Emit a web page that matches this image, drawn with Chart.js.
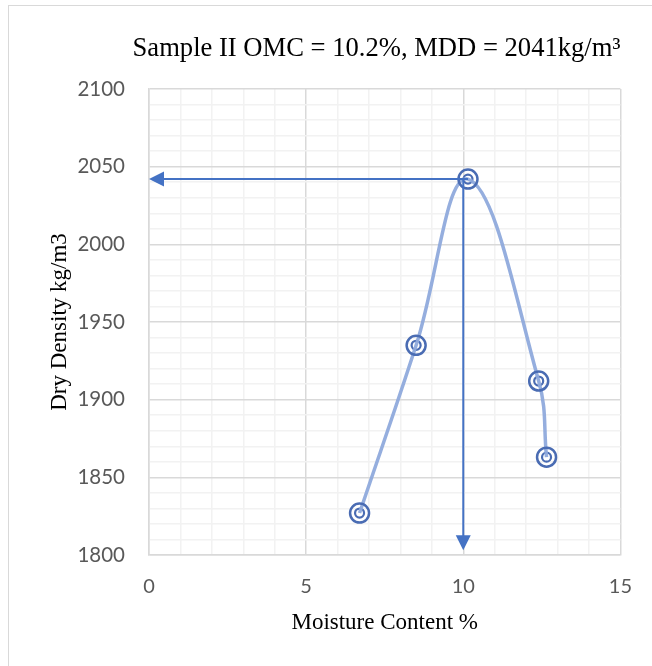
<!DOCTYPE html>
<html>
<head>
<meta charset="utf-8">
<script src="https://cdn.jsdelivr.net/npm/chart.js@4.4.0/dist/chart.umd.min.js"></script>
<style>
  body { margin: 0; background: #fff; }
  #wrap { position: relative; width: 652px; height: 666px; }
  #frame {
    position: absolute; left: 8px; top: 5px; right: -10px; bottom: -10px;
    border-top: 1.5px solid #d9d9d9; border-left: 1.5px solid #d9d9d9;
    pointer-events: none;
  }
  canvas { position: absolute; left: 0; top: 0; }
</style>
</head>
<body>
<div id="wrap">
  <div id="frame"></div>
  <canvas id="compactionChart" width="652" height="666"></canvas>
</div>
<script>
// moisture content (%) and dry density (kg/m3)
const moisture = [6.7, 8.5, 10.15, 12.4, 12.65];
const dryDensity = [1827, 1935, 2042, 1912, 1863];

// reference lines for the optimum
const omcLineX = 10;
const mddLineY = 2042;
const arrowTipY = 1803;

const xTickLabels = [0, 5, 10, 15];
const yTickLabels = [1800, 1850, 1900, 1950, 2000, 2050, 2100];

const chartTitle = "Sample II OMC = 10.2%, MDD = 2041kg/m\u00b3";

const points = moisture.map((m, i) => ({ x: m, y: dryDensity[i] }));

const markerColor = "#4a6cb3";
const arrowColor = "#4472c4";
const serif = "'Liberation Serif', 'Times New Roman', serif";

// title, right aligned to the plot area
const titlePlugin = {
  id: "rightTitle",
  afterDraw(chart) {
    const ctx = chart.ctx;
    ctx.save();
    ctx.font = "26.6px " + serif;
    ctx.fillStyle = "#000";
    ctx.textAlign = "right";
    ctx.textBaseline = "alphabetic";
    ctx.fillText(chartTitle, chart.chartArea.right, 56);
    ctx.restore();
  },
};

// draws the two arrows to the axes
const arrowPlugin = {
  id: "omcArrows",
  afterDatasetsDraw(chart) {
    const ctx = chart.ctx;
    const xs = chart.scales.x;
    const ys = chart.scales.y;
    const peakX = xs.getPixelForValue(moisture[dryDensity.indexOf(Math.max(...dryDensity))]);
    const lineY = ys.getPixelForValue(mddLineY);
    const leftX = xs.getPixelForValue(0);
    const vx = xs.getPixelForValue(omcLineX);
    const tipY = ys.getPixelForValue(arrowTipY);
    const head = 15;
    const half = 7.5;

    ctx.save();
    ctx.strokeStyle = arrowColor;
    ctx.fillStyle = arrowColor;
    ctx.lineWidth = 2;

    // horizontal arrow
    ctx.beginPath();
    ctx.moveTo(peakX, lineY);
    ctx.lineTo(leftX + head - 2, lineY);
    ctx.stroke();
    ctx.beginPath();
    ctx.moveTo(leftX, lineY);
    ctx.lineTo(leftX + head, lineY - half);
    ctx.lineTo(leftX + head, lineY + half);
    ctx.closePath();
    ctx.fill();

    // vertical arrow
    ctx.beginPath();
    ctx.moveTo(vx, lineY);
    ctx.lineTo(vx, tipY - head + 2);
    ctx.stroke();
    ctx.beginPath();
    ctx.moveTo(vx, tipY);
    ctx.lineTo(vx - half, tipY - head);
    ctx.lineTo(vx + half, tipY - head);
    ctx.closePath();
    ctx.fill();
    ctx.restore();
  },
};

var chartCtx = document.getElementById("compactionChart").getContext("2d");
var compactionChart = new Chart(chartCtx, {
  type: "scatter",
  data: {
    datasets: [
      {
        data: points,
        showLine: true,
        tension: 0.4,
        borderColor: "rgba(143, 170, 220, 0.95)",
        borderWidth: 3.5,
        pointRadius: 9.5,
        pointBorderWidth: 2.5,
        pointBorderColor: markerColor,
        pointBackgroundColor: "rgba(0,0,0,0)",
      },
      {
        data: points,
        showLine: false,
        pointRadius: 4.5,
        pointBorderWidth: 2.2,
        pointBorderColor: markerColor,
        pointBackgroundColor: "rgba(0,0,0,0)",
      },
    ],
  },
  options: {
    responsive: false,
    animation: false,
    layout: { padding: { left: 0, right: 29, top: 89, bottom: 0 } },
    plugins: {
      legend: { display: false },
      tooltip: { enabled: false },
      title: { display: false },
    },
    scales: {
      x: {
        type: "linear",
        min: 0,
        max: 15,
        afterFit(scale) { scale.height = 666 - 555; },
        ticks: {
          stepSize: 1,
          autoSkip: false,
          maxRotation: 0,
          padding: 20,
          color: "#595959",
          font: { family: "Lato, 'Noto Sans', sans-serif", size: 20 },
          callback: (v) => (xTickLabels.includes(v) ? String(v) : ""),
        },
        grid: {
          drawTicks: false,
          lineWidth: 1.5,
          color: (c) => (c.tick && xTickLabels.includes(c.tick.value) ? "#d9d9d9" : "#f2f2f2"),
        },
        border: { color: "#d9d9d9", width: 1.5 },
        title: {
          display: true,
          text: "Moisture Content %",
          color: "#000",
          font: { family: serif, size: 23 },
          padding: { top: 0, bottom: 29 },
        },
      },
      y: {
        type: "linear",
        min: 1800,
        max: 2100,
        afterFit(scale) { scale.width = 149; },
        ticks: {
          stepSize: 10,
          autoSkip: false,
          padding: 24,
          color: "#595959",
          font: { family: "Lato, 'Noto Sans', sans-serif", size: 20.5 },
          callback: (v) => (yTickLabels.includes(v) ? String(v) : ""),
        },
        grid: {
          drawTicks: false,
          lineWidth: 1.5,
          color: (c) => (c.tick && yTickLabels.includes(c.tick.value) ? "#d9d9d9" : "#f2f2f2"),
        },
        border: { color: "#d9d9d9", width: 1.5 },
        title: {
          display: true,
          text: "Dry Density kg/m3",
          color: "#000",
          font: { family: serif, size: 23 },
          padding: { top: 46, bottom: 0 },
        },
      },
    },
  },
  plugins: [arrowPlugin, titlePlugin],
});
</script>
</body>
</html>
